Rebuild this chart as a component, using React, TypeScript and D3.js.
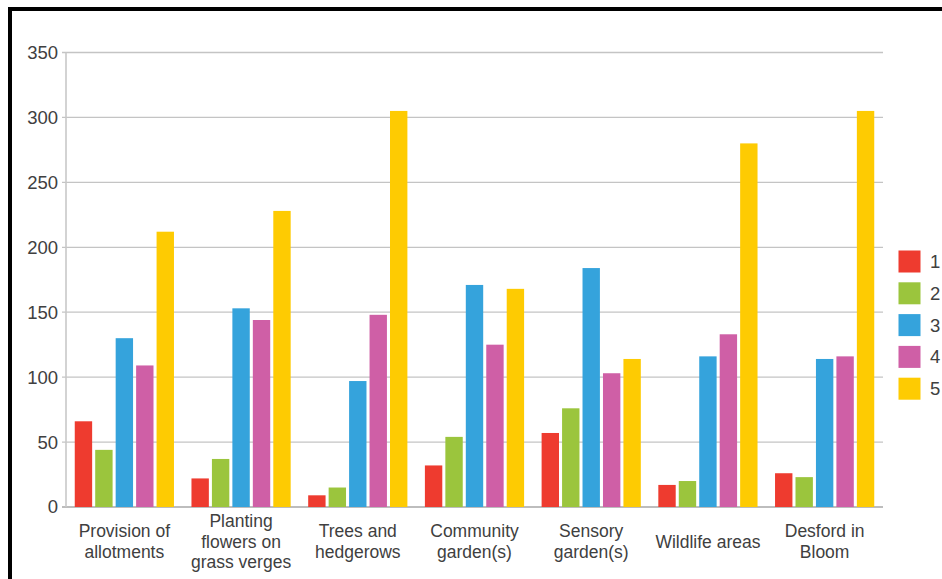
import React from "react";
import * as d3 from "d3";

const categories: string[][] = [
  ["Provision of", "allotments"],
  ["Planting", "flowers on", "grass verges"],
  ["Trees and", "hedgerows"],
  ["Community", "garden(s)"],
  ["Sensory", "garden(s)"],
  ["Wildlife areas"],
  ["Desford in", "Bloom"],
];
const seriesNames = ["1", "2", "3", "4", "5"];
const s1 = [66, 22, 9, 32, 57, 17, 26];
const s2 = [44, 37, 15, 54, 76, 20, 23];
const s3 = [130, 153, 97, 171, 184, 116, 114];
const s4 = [109, 144, 148, 125, 103, 133, 116];
const s5 = [212, 228, 305, 168, 114, 280, 305];
const seriesValues = [s1, s2, s3, s4, s5];
const yTicks = [0, 50, 100, 150, 200, 250, 300, 350];
const colors = ["#ee3b2f", "#9bc53d", "#35a3dc", "#cf5fa6", "#fecb02"];

const W = 942;
const H = 579;
const plotLeft = 66;
const plotRight = 883;
const plotTop = 52.5;
const plotBottom = 507;
const font = "Arial, 'Liberation Sans', sans-serif";

export default function App() {
  const catIdx = categories.map((_, i) => String(i));
  const x0 = d3
    .scaleBand<string>()
    .domain(catIdx)
    .range([plotLeft, plotRight])
    .paddingInner(0.15)
    .paddingOuter(0.075);
  const x1 = d3
    .scaleBand<string>()
    .domain(seriesNames)
    .range([0, x0.bandwidth()])
    .paddingInner(0.15);
  const y = d3.scaleLinear().domain([0, 350]).range([plotBottom, plotTop]);

  return (
    <svg
      width={W}
      height={H}
      style={{ position: "absolute", left: 0, top: 0, background: "#fff" }}
    >
      <rect x={0} y={0} width={W} height={H} fill="#fff" />
      {/* gridlines */}
      {yTicks.map((t) => (
        <g key={t}>
          <line
            x1={plotLeft - 4}
            x2={plotRight}
            y1={y(t)}
            y2={y(t)}
            stroke={t === 0 ? "#bdbdbd" : "#c4c4c4"}
            strokeWidth={t === 0 ? 2 : 1.3}
          />
          <text
            x={58}
            y={y(t)}
            dy="0.35em"
            textAnchor="end"
            fontFamily={font}
            fontSize={18.5}
            fill="#404040"
          >
            {t}
          </text>
        </g>
      ))}
      <line
        x1={plotLeft}
        x2={plotLeft}
        y1={plotTop}
        y2={plotBottom}
        stroke="#c8c8c8"
        strokeWidth={1.6}
      />
      {/* bars */}
      {seriesValues.map((vals, si) =>
        vals.map((v, ci) => (
          <rect
            key={`${si}-${ci}`}
            x={(x0(String(ci)) ?? 0) + (x1(seriesNames[si]) ?? 0)}
            y={y(v)}
            width={x1.bandwidth()}
            height={y(0) - y(v)}
            fill={colors[si]}
          />
        ))
      )}
      {/* category labels */}
      {categories.map((lines, ci) => {
        const cx = (x0(String(ci)) ?? 0) + x0.bandwidth() / 2;
        const lh = 20.5;
        const startY = 541.5 - ((lines.length - 1) * lh) / 2;
        return (
          <text
            key={ci}
            x={cx}
            textAnchor="middle"
            fontFamily={font}
            fontSize={17.5}
            fill="#404040"
          >
            {lines.map((l, li) => (
              <tspan key={li} x={cx} y={startY + li * lh} dy="0.35em">
                {l}
              </tspan>
            ))}
          </text>
        );
      })}
      {/* legend */}
      {seriesNames.map((n, i) => {
        const top = 250.5 + i * 31.8;
        return (
          <g key={n}>
            <rect x={898.5} y={top} width={22} height={22} fill={colors[i]} />
            <text
              x={930}
              y={top + 11}
              dy="0.35em"
              fontFamily={font}
              fontSize={18.5}
              fill="#404040"
            >
              {n}
            </text>
          </g>
        );
      })}
      {/* frame */}
      <rect x={10} y={9} width={W + 20} height={H + 20} fill="none" stroke="#000" strokeWidth={4} />
    </svg>
  );
}
